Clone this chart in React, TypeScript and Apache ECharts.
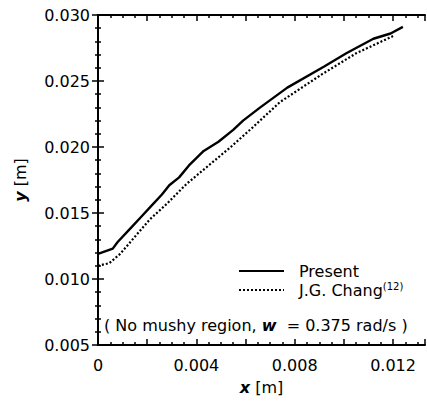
import React, { useEffect, useRef } from "react";
import * as echarts from "echarts";

const presentX = [0, 0.0006, 0.0008, 0.0013, 0.00175, 0.00215, 0.0026, 0.0029, 0.0033, 0.0037, 0.0043, 0.0049, 0.0055, 0.0059, 0.0066, 0.0077, 0.0092, 0.0101, 0.0112, 0.0119, 0.0124];
const presentY = [0.0119, 0.0123, 0.0128, 0.0138, 0.0147, 0.0155, 0.0164, 0.0171, 0.0177, 0.0186, 0.0197, 0.0204, 0.0213, 0.0220, 0.0230, 0.0245, 0.0261, 0.0271, 0.0282, 0.0286, 0.0291];
const changX = [0, 0.00046, 0.0009, 0.0015, 0.0021, 0.0028, 0.0036, 0.0045, 0.0054, 0.0063, 0.0074, 0.0091, 0.0105, 0.0120];
const changY = [0.0110, 0.0112, 0.0119, 0.0132, 0.0145, 0.0157, 0.0172, 0.0186, 0.0200, 0.0215, 0.0234, 0.0255, 0.0271, 0.0284];
const xTickLabels = ["0", "0.004", "0.008", "0.012"];
const yTickLabels = ["0.005", "0.010", "0.015", "0.020", "0.025", "0.030"];
const seriesNames = ["Present", "J.G. Chang(12)"];

const FONT = "DejaVu Sans";

export default function App() {
  const ref = useRef<HTMLDivElement>(null);
  useEffect(() => {
    const chart = echarts.init(ref.current!, null, { renderer: "svg" });
    const axisLine = { show: true, lineStyle: { color: "#000", width: 2 } };
    const xLabelFmt = (v: number) => {
      const k = Math.round(v / 0.002);
      if (Math.abs(v - k * 0.002) > 1e-9) return "";
      const s = v === 0 ? "0" : v.toFixed(3);
      return xTickLabels.includes(s) ? s : "";
    };
    const yLabelFmt = (v: number) => {
      const s = v.toFixed(3);
      return yTickLabels.includes(s) ? s : "";
    };
    const xBase = {
      type: "value",
      min: 0,
      max: 0.0133,
      interval: 0.002,
      axisLine,
      splitLine: { show: false },
      axisTick: { show: true, inside: true, length: 6, lineStyle: { color: "#000", width: 1.5 } },
      minorTick: { show: true, splitNumber: 4, length: 3, lineStyle: { color: "#000", width: 1.5 } },
    };
    const yBase = {
      type: "value",
      min: 0.005,
      max: 0.03,
      interval: 0.005,
      axisLine,
      splitLine: { show: false },
      axisTick: { show: true, inside: true, length: 6, lineStyle: { color: "#000", width: 1.5 } },
      minorTick: { show: true, splitNumber: 5, length: 3, lineStyle: { color: "#000", width: 1.5 } },
    };
    chart.setOption({
      animation: false,
      backgroundColor: "#fff",
      textStyle: { fontFamily: FONT, color: "#000" },
      grid: { left: 98, right: 2, top: 15, bottom: 58 },
      xAxis: [
        {
          ...xBase,
          position: "bottom",
          name: "{i|x} [m]",
          nameLocation: "middle",
          nameGap: 34,
          nameTextStyle: {
            fontSize: 16,
            color: "#000",
            fontFamily: FONT,
            rich: { i: { fontSize: 16, fontStyle: "italic", fontWeight: "bold", fontFamily: FONT, color: "#000" } },
          },
          axisLabel: { show: true, fontSize: 16, color: "#000", fontFamily: FONT, margin: 12, formatter: xLabelFmt, showMaxLabel: false },
        },
        { ...xBase, position: "top", axisLabel: { show: false } },
      ],
      yAxis: [
        {
          ...yBase,
          position: "left",
          name: "{i|y} [m]",
          nameLocation: "middle",
          nameGap: 70,
          nameRotate: 90,
          nameTextStyle: {
            fontSize: 16,
            color: "#000",
            fontFamily: FONT,
            rich: { i: { fontSize: 16, fontStyle: "italic", fontWeight: "bold", fontFamily: FONT, color: "#000" } },
          },
          axisLabel: { show: true, fontSize: 16, color: "#000", fontFamily: FONT, margin: 8, formatter: yLabelFmt },
        },
        { ...yBase, position: "right", axisLabel: { show: false } },
      ],
      legend: {
        show: true,
        orient: "vertical",
        left: 233,
        top: 258,
        itemWidth: 45,
        itemHeight: 14,
        itemGap: 2,
        itemStyle: { opacity: 0 },
        data: seriesNames,
        formatter: (name: string) => (name === seriesNames[1] ? "{n|J.G. Chang}{s|(12)}" : "{n|" + name + "}"),
        textStyle: {
          fontFamily: FONT,
          color: "#000",
          rich: {
            n: { fontSize: 16, fontFamily: FONT, color: "#000", lineHeight: 18, padding: [0, 0, 0, 10] },
            s: { fontSize: 10, fontFamily: FONT, color: "#000", verticalAlign: "top", lineHeight: 18 },
          },
        },
      },
      graphic: [
        {
          type: "text",
          left: 104,
          top: 317,
          style: {
            text: "( No mushy region, {w|w}  = 0.375 rad/s )",
            fontFamily: FONT,
            fontSize: 16,
            fill: "#000",
            rich: { w: { fontFamily: FONT, fontSize: 16, fontStyle: "italic", fontWeight: "bold", fill: "#000" } },
          },
        },
      ],
      series: [
        {
          name: seriesNames[0],
          type: "line",
          data: presentX.map((x, i) => [x, presentY[i]]),
          symbol: "none",
          lineStyle: { color: "#000", width: 2.4 },
          itemStyle: { color: "#000" },
        },
        {
          name: seriesNames[1],
          type: "line",
          data: changX.map((x, i) => [x, changY[i]]),
          symbol: "none",
          lineStyle: { color: "#000", width: 2.2, type: [2, 2] },
          itemStyle: { color: "#000" },
        },
      ],
    });
    return () => chart.dispose();
  }, []);
  return <div ref={ref} style={{ position: "fixed", left: 0, top: 0, width: 427, height: 403 }} />;
}
